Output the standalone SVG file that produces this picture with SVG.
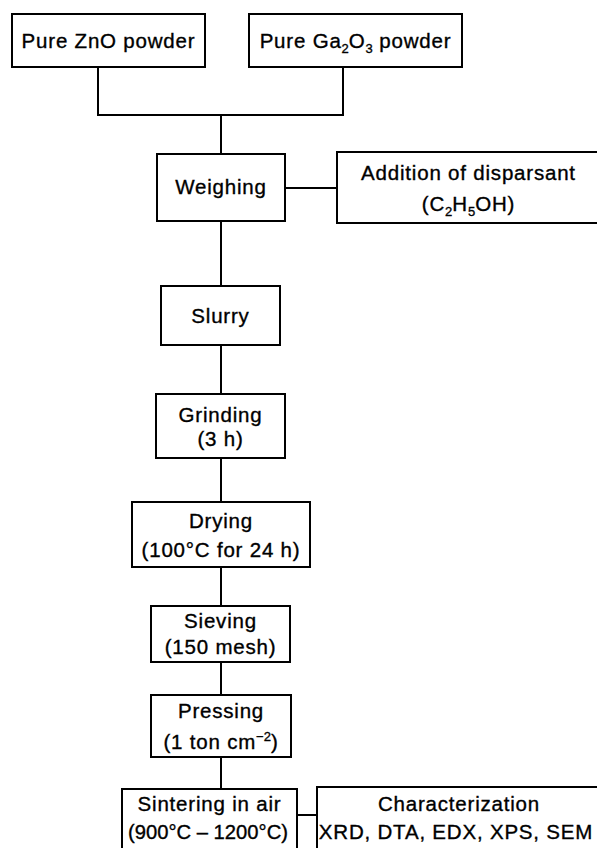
<svg xmlns="http://www.w3.org/2000/svg" width="597" height="848" viewBox="0 0 597 848">
<style>
.box{fill:#fff;stroke:#000;stroke-width:2}
.ln{fill:none;stroke:#000;stroke-width:2}
text{font-family:"Liberation Sans",Arial,sans-serif;font-size:20.5px;letter-spacing:0.8px;fill:#000;stroke:#000;stroke-width:0.35px;text-anchor:middle}
.s{font-size:13px;letter-spacing:0}
</style>
<rect width="597" height="848" fill="#fff"/>
<g id="connectors">
<path class="ln" d="M98,67V115H343V67"/>
<path class="ln" d="M221,115V154"/>
<path class="ln" d="M285,188H337"/>
<path class="ln" d="M221,221V286"/>
<path class="ln" d="M221,345V394"/>
<path class="ln" d="M221,458V502"/>
<path class="ln" d="M221,567V606"/>
<path class="ln" d="M221,662V695"/>
<path class="ln" d="M221,757V789"/>
<path class="ln" d="M297,815H317"/>
</g>
<g id="zno"><rect class="box" x="12" y="14" width="193" height="53"/><text x="108.5" y="48">Pure ZnO powder</text></g>
<g id="ga2o3"><rect class="box" x="249" y="14" width="213" height="53"/><text x="355.5" y="48">Pure Ga<tspan class="s" dy="5">2</tspan><tspan dy="-5">O</tspan><tspan class="s" dy="5">3</tspan><tspan dy="-5"> powder</tspan></text></g>
<g id="weighing"><rect class="box" x="157" y="154" width="128" height="67"/><text x="221" y="194">Weighing</text></g>
<g id="addition"><rect class="box" x="337" y="152" width="264" height="71"/><text x="468.5" y="180">Addition of disparsant</text><text x="468.5" y="211">(C<tspan class="s" dy="5">2</tspan><tspan dy="-5">H</tspan><tspan class="s" dy="5">5</tspan><tspan dy="-5">OH)</tspan></text></g>
<g id="slurry"><rect class="box" x="161" y="286" width="119" height="59"/><text x="220.5" y="323">Slurry</text></g>
<g id="grinding"><rect class="box" x="156" y="394" width="129" height="64"/><text x="220.5" y="422">Grinding</text><text x="220.5" y="446">(3 h)</text></g>
<g id="drying"><rect class="box" x="132" y="502" width="178" height="65"/><text x="221" y="528">Drying</text><text x="221" y="557">(100°C for 24 h)</text></g>
<g id="sieving"><rect class="box" x="151" y="606" width="139" height="56"/><text x="220.5" y="628">Sieving</text><text x="220.5" y="654">(150 mesh)</text></g>
<g id="pressing"><rect class="box" x="151" y="695" width="140" height="62"/><text x="221" y="718">Pressing</text><text x="221" y="749">(1 ton cm<tspan class="s" dy="-8">−2</tspan><tspan dy="8">)</tspan></text></g>
<g id="sintering"><rect class="box" x="122" y="789" width="175" height="70"/><text x="209.5" y="811">Sintering in air</text><text x="208" y="839" textLength="160" lengthAdjust="spacingAndGlyphs" style="letter-spacing:0">(900°C – 1200°C)</text></g>
<g id="characterization"><rect class="box" x="317" y="787" width="284" height="72"/><text x="459" y="811">Characterization</text><text x="456" y="839">XRD, DTA, EDX, XPS, SEM</text></g>
</svg>
